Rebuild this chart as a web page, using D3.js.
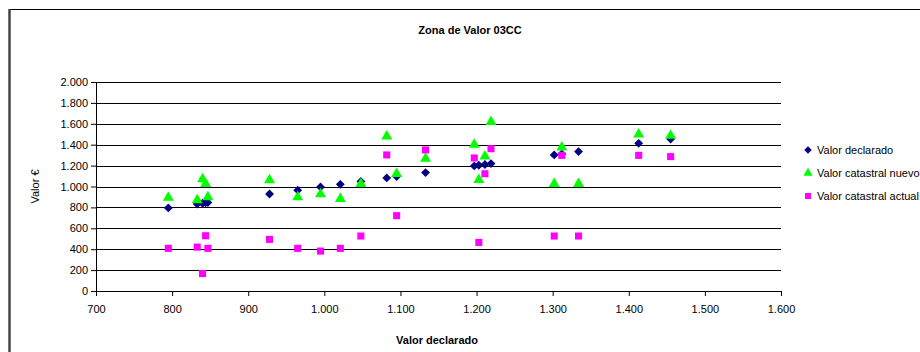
<!DOCTYPE html>
<html>
<head>
<meta charset="utf-8">
<script src="https://cdnjs.cloudflare.com/ajax/libs/d3/7.8.5/d3.min.js"></script>
<style>
  body { margin: 0; background: #fff; }
  text { font-family: "Liberation Sans", Arial, sans-serif; }
</style>
</head>
<body>
<div id="chart"></div>
<script>
// values
var declarado = [795, 833, 840, 844, 847, 928, 965, 995, 1021, 1048, 1082, 1095, 1133,
                 1197, 1203, 1211, 1219, 1302, 1312, 1334, 1413, 1455];
var nuevo     = [894, 870, 1070, 1026, 898, 1061, 898, 927, 882, 1026, 1481, 1122, 1266,
                 1401, 1064, 1289, 1619, 1026, 1375, 1026, 1500, 1487];
var actual    = [408, 420, 167, 529, 408, 494, 408, 382, 408, 526, 1302, 721, 1350,
                 1273, 465, 1122, 1362, 526, 1298, 526, 1298, 1286];
var xTicks = [700, 800, 900, 1000, 1100, 1200, 1300, 1400, 1500, 1600];
var yTicks = [0, 200, 400, 600, 800, 1000, 1200, 1400, 1600, 1800, 2000];
var seriesNames = ["Valor declarado", "Valor catastral nuevo", "Valor catastral actual"];

var W = 920, H = 352;
var margin = {top: 82, left: 96, right: 139, bottom: 61};
var width = W - margin.left - margin.right,
    height = H - margin.top - margin.bottom;

// thousands with a dot
var fmt = function (v) { return d3.format(",")(v).replace(/,/g, "."); };

var svg = d3.select("#chart").append("svg")
    .attr("width", W)
    .attr("height", H);

// outer frame
svg.append("line").attr("x1", 9).attr("x2", W).attr("y1", 9.5).attr("y2", 9.5)
    .attr("stroke", "#000").attr("stroke-width", 1);
svg.append("line").attr("x1", 9.5).attr("x2", 9.5).attr("y1", 9).attr("y2", H)
    .attr("stroke", "#444").attr("stroke-width", 2.5);

svg.append("text")
    .attr("x", 470).attr("y", 34)
    .attr("text-anchor", "middle")
    .attr("font-size", "11px").attr("font-weight", "bold")
    .text("Zona de Valor 03CC");

var g = svg.append("g")
    .attr("transform", "translate(" + margin.left + "," + margin.top + ")");

var x = d3.scaleLinear().domain([700, 1600]).range([0, width]);
var y = d3.scaleLinear().domain([0, 2000]).range([height, 0]);

// gridlines
g.selectAll(".grid")
    .data(yTicks.slice(1))
    .enter().append("line")
    .attr("class", "grid")
    .attr("x1", 0).attr("x2", width)
    .attr("y1", function (d) { return Math.round(y(d)) + 0.5; })
    .attr("y2", function (d) { return Math.round(y(d)) + 0.5; })
    .attr("stroke", "#000").attr("stroke-width", 1);

// axes
var xAxis = g.append("g")
    .attr("transform", "translate(0," + height + ")")
    .call(d3.axisBottom(x).tickValues(xTicks).tickFormat(fmt).tickSize(5).tickSizeOuter(0));
var yAxis = g.append("g")
    .call(d3.axisLeft(y).tickValues(yTicks).tickFormat(fmt).tickSize(5).tickSizeOuter(0));

[xAxis, yAxis].forEach(function (a) {
    a.selectAll("text").attr("font-size", "11px").attr("fill", "#000")
        .attr("font-family", "Liberation Sans, Arial, sans-serif");
    a.selectAll("line").attr("stroke", "#000");
    a.select(".domain").attr("stroke", "#000");
});
xAxis.selectAll("text").attr("dy", "1.25em");

svg.append("text")
    .attr("x", 437).attr("y", 344)
    .attr("text-anchor", "middle")
    .attr("font-size", "11px").attr("font-weight", "bold")
    .text("Valor declarado");

svg.append("text")
    .attr("transform", "translate(39," + (margin.top + height / 2) + ") rotate(-90)")
    .attr("text-anchor", "middle")
    .attr("font-size", "11px")
    .text("Valor €");

// markers
var diamond = d3.symbol().type(d3.symbolDiamond2).size(50);
var triangle = d3.symbol().type(d3.symbolTriangle).size(52);
var square = d3.symbol().type(d3.symbolSquare).size(50);

var idx = d3.range(declarado.length);

g.selectAll(".dec")
    .data(idx)
    .enter().append("path")
    .attr("class", "dec")
    .attr("d", diamond)
    .attr("transform", function (i) { return "translate(" + x(declarado[i]) + "," + y(declarado[i]) + ")"; })
    .attr("fill", "#000080");

g.selectAll(".nue")
    .data(idx)
    .enter().append("path")
    .attr("class", "nue")
    .attr("d", triangle)
    .attr("transform", function (i) { return "translate(" + x(declarado[i]) + "," + y(nuevo[i]) + ")"; })
    .attr("fill", "#00ff00");

g.selectAll(".act")
    .data(idx)
    .enter().append("path")
    .attr("class", "act")
    .attr("d", square)
    .attr("transform", function (i) { return "translate(" + x(declarado[i]) + "," + y(actual[i]) + ")"; })
    .attr("fill", "#ff00ff");

// legend
var symbols = [diamond, triangle, square];
var colors = ["#000080", "#00ff00", "#ff00ff"];
var legend = svg.selectAll(".leg")
    .data(seriesNames)
    .enter().append("g")
    .attr("class", "leg")
    .attr("transform", function (d, i) { return "translate(808," + (150 + i * 23) + ")"; });
legend.append("path")
    .attr("d", function (d, i) { return symbols[i].size(36)(); })
    .attr("fill", function (d, i) { return colors[i]; });
legend.append("text")
    .attr("x", 9).attr("y", 4)
    .attr("font-size", "11px")
    .text(function (d) { return d; });
</script>
</body>
</html>
